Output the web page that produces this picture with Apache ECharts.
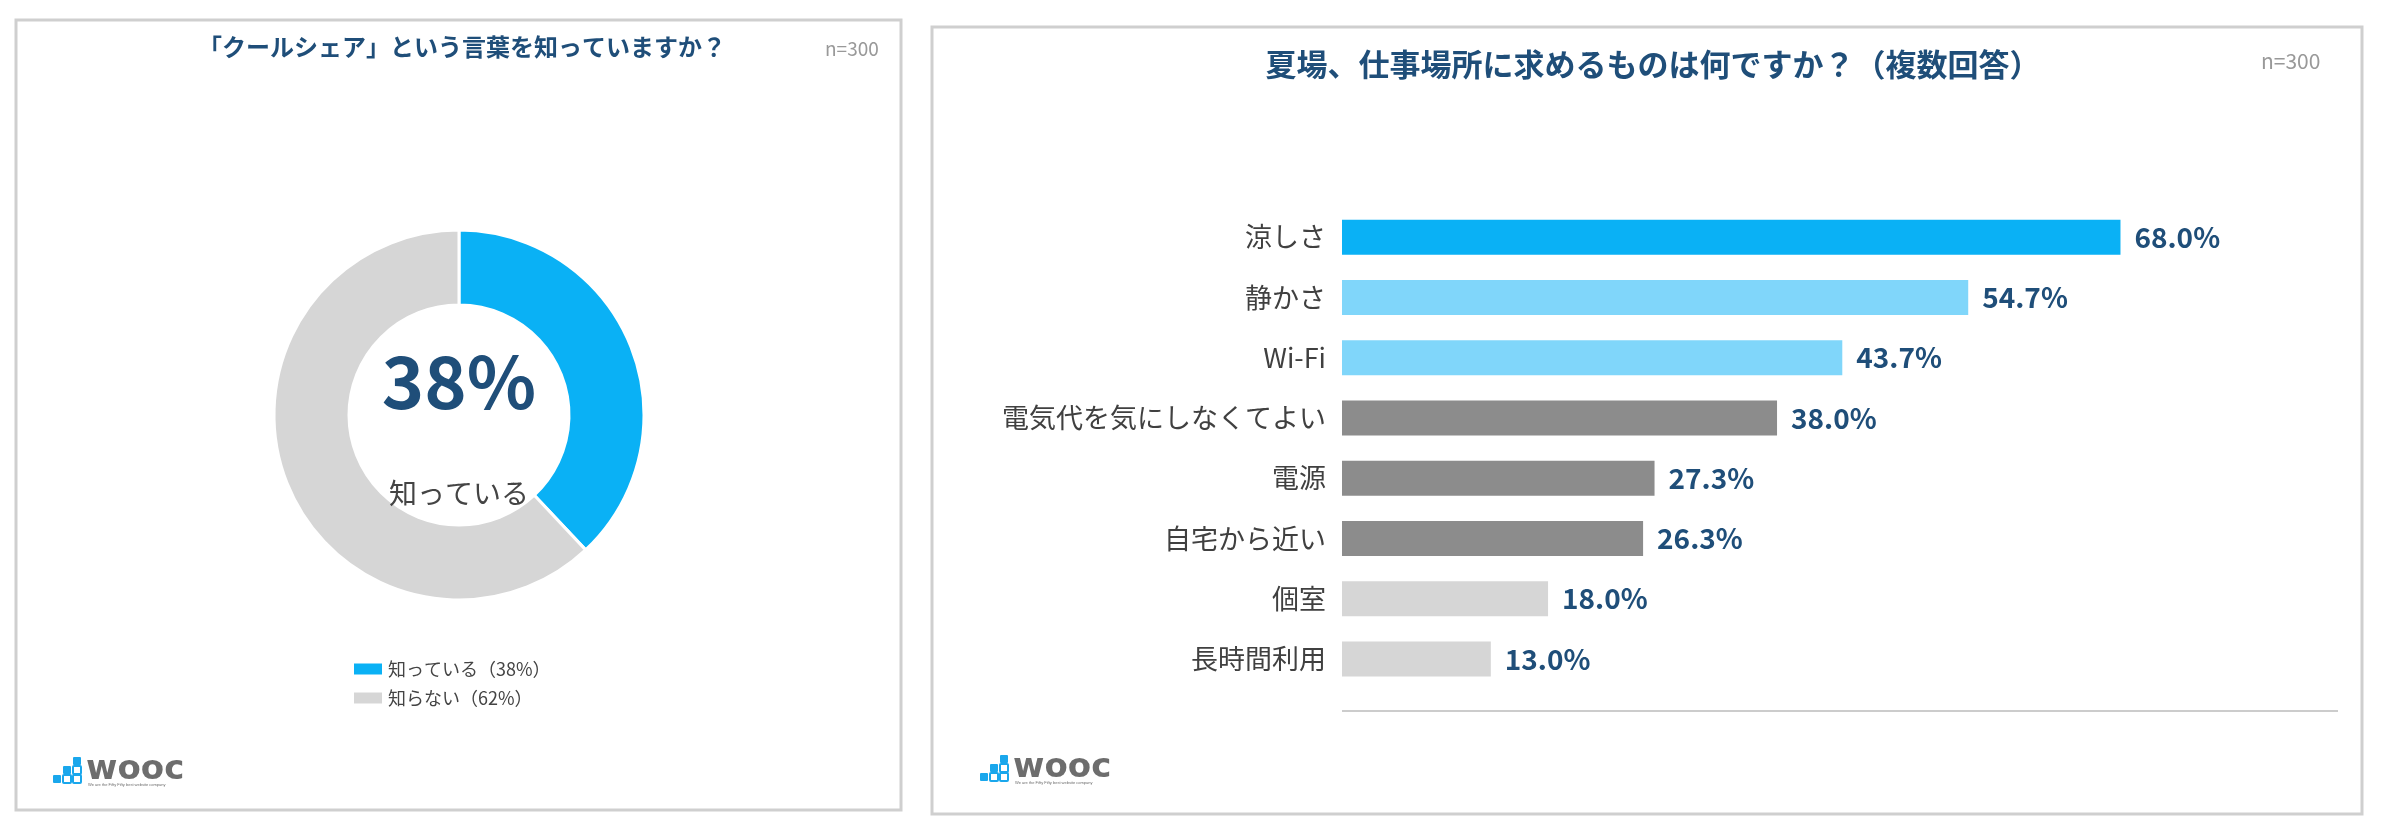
<!DOCTYPE html>
<html><head><meta charset="utf-8">
<script src="https://cdn.jsdelivr.net/npm/echarts@6/dist/echarts.min.js"></script>
<style>html,body{margin:0;padding:0;background:#fff}#c{width:2386px;height:833px}</style>
</head><body><div id="c"></div>
<script>
var pieNames = ['知っている', '知らない'];
var pieValues = [38, 62];
var barCategories = ['涼しさ', '静かさ', 'Wi-Fi', '電気代を気にしなくてよい', '電源', '自宅から近い', '個室', '長時間利用'];
var barValues = [68.0, 54.7, 43.7, 38.0, 27.3, 26.3, 18.0, 13.0];
var barColors = ['#0AB1F5', '#80D6FA', '#80D6FA', '#8C8C8C', '#8C8C8C', '#8C8C8C', '#D6D6D6', '#D6D6D6'];

var navy = '#1F4E79';
var font = '"Noto Sans CJK JP", "Noto Sans", sans-serif';
var chart = echarts.init(document.getElementById('c'));

function logo(x, y) {
  var c = '#1AA7EC', g = '#6D6D6D';
  return [
    { type: 'rect', shape: { x: x, y: y + 18, width: 8, height: 8, r: 1 }, style: { fill: c } },
    { type: 'rect', shape: { x: x + 10, y: y + 9, width: 8, height: 8, r: 1 }, style: { fill: c } },
    { type: 'rect', shape: { x: x + 10, y: y + 18, width: 8, height: 8, r: 1 }, style: { fill: 'none', stroke: c, lineWidth: 2 } },
    { type: 'rect', shape: { x: x + 20, y: y, width: 8, height: 8, r: 1 }, style: { fill: c } },
    { type: 'rect', shape: { x: x + 20, y: y + 9, width: 8, height: 8, r: 1 }, style: { fill: 'none', stroke: c, lineWidth: 2 } },
    { type: 'rect', shape: { x: x + 20, y: y + 18, width: 8, height: 8, r: 1 }, style: { fill: 'none', stroke: c, lineWidth: 2 } },
    { type: 'text', x: x + 33, y: y - 4, style: { text: 'wooc', fill: g, font: 'bold 34px "DejaVu Sans"' } },
    { type: 'text', x: x + 35, y: y + 26, style: { text: 'We are the Fifty Fifty best website company', fill: g, font: '4px sans-serif' } }
  ];
}

chart.setOption({
  animation: false,
  title: [
    { text: '「クールシェア」という言葉を知っていますか？', left: 457, top: 30, textAlign: 'center',
      textStyle: { color: navy, fontSize: 24, fontWeight: 'bold', fontFamily: font } },
    { text: 'n=300', left: 820, top: 34, textStyle: { color: '#999', fontSize: 19, fontWeight: 'normal', fontFamily: font } },
    { text: '夏場、仕事場所に求めるものは何ですか？（複数回答）', left: 1648, top: 44, textAlign: 'center',
      textStyle: { color: navy, fontSize: 31, fontWeight: 'bold', fontFamily: font } },
    { text: 'n=300', left: 2256, top: 46, textStyle: { color: '#999', fontSize: 21, fontWeight: 'normal', fontFamily: font } }
  ],
  legend: {
    orient: 'vertical', left: 347, top: 655, itemWidth: 30, itemHeight: 13, itemGap: 11,
    icon: 'rect', data: pieNames,
    formatter: function (n) { return n + '（' + pieValues[pieNames.indexOf(n)] + '%）'; },
    textStyle: { color: '#444', fontSize: 18, fontFamily: font }
  },
  grid: { left: 1342, top: 207, width: 996, height: 482 },
  xAxis: { type: 'value', min: 0, max: 87, show: false },
  yAxis: {
    type: 'category', inverse: true, data: barCategories,
    axisLine: { show: false }, axisTick: { show: false },
    axisLabel: { color: '#404040', fontSize: 27, fontFamily: font, margin: 16 }
  },
  series: [
    {
      type: 'pie', center: [459, 415], radius: [110, 185], startAngle: 90, clockwise: true,
      label: { show: false }, labelLine: { show: false },
      itemStyle: { borderColor: '#fff', borderWidth: 3 },
      data: pieNames.map(function (n, i) {
        return { name: n, value: pieValues[i], itemStyle: { color: i === 0 ? '#0AB1F5' : '#D6D6D6' } };
      })
    },
    {
      type: 'bar', barWidth: 35,
      data: barValues.map(function (v, i) { return { value: v, itemStyle: { color: barColors[i] } }; }),
      label: { show: true, position: 'right', distance: 14, color: navy, fontSize: 28, fontWeight: 'bold', fontFamily: font,
        formatter: function (p) { return p.value.toFixed(1) + '%'; } }
    }
  ],
  graphic: [
    { type: 'rect', shape: { x: 16, y: 20, width: 885, height: 790 }, style: { fill: 'none', stroke: '#CFCFCF', lineWidth: 3 } },
    { type: 'rect', shape: { x: 932, y: 27, width: 1430, height: 787 }, style: { fill: 'none', stroke: '#CFCFCF', lineWidth: 3 } },
    { type: 'line', shape: { x1: 1342, y1: 711, x2: 2338, y2: 711 }, style: { stroke: '#CCCCCC', lineWidth: 2 } },
    { type: 'text', z: 100, x: 459, y: 382, style: { text: pieValues[0] + '%', fill: navy, font: 'bold 72px ' + font, textAlign: 'center', textVerticalAlign: 'middle' } },
    { type: 'text', z: 100, x: 459, y: 493, style: { text: pieNames[0], fill: '#444', font: '28px ' + font, textAlign: 'center', textVerticalAlign: 'middle' } }
  ].concat(logo(53, 757), logo(980, 755))
});
</script></body></html>
